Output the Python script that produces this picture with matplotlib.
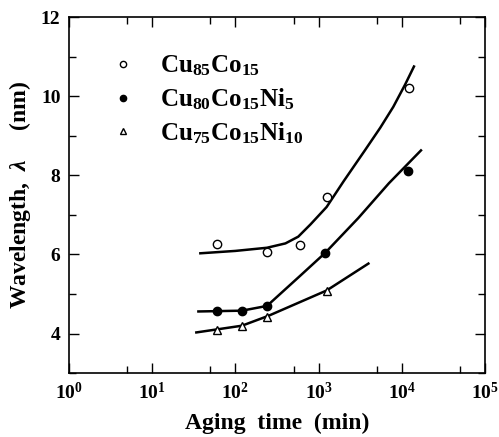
import numpy as np
import matplotlib
matplotlib.use("Agg")
import matplotlib.pyplot as plt
from matplotlib.ticker import LogLocator, MultipleLocator, FixedLocator

plt.rcParams["font.family"] = "Liberation Serif"
plt.rcParams["font.weight"] = "bold"
plt.rcParams["mathtext.fontset"] = "custom"
plt.rcParams["mathtext.rm"] = "Liberation Serif:bold"
plt.rcParams["mathtext.bf"] = "Liberation Serif:bold"
plt.rcParams["mathtext.it"] = "Liberation Serif:italic:bold"

# ============================
# Datos
# ============================
labels = [r"Cu$_{85}$Co$_{15}$", r"Cu$_{80}$Co$_{15}$Ni$_{5}$", r"Cu$_{75}$Co$_{15}$Ni$_{10}$"]

t_cu85 = [60, 240, 600, 1250, 12300]
w_cu85 = [6.27, 6.07, 6.25, 7.44, 10.21]
t_cu80 = [60, 120, 240, 1200, 12000]
w_cu80 = [4.58, 4.58, 4.69, 6.04, 8.12]
t_cu75 = [60, 120, 240, 1250]
w_cu75 = [4.09, 4.20, 4.41, 5.07]

# curvas de ajuste
fit_t_cu85 = [38, 100, 240, 400, 570, 800, 1250, 2000, 3600, 5500, 7900, 11000, 14000]
fit_w_cu85 = [6.03, 6.09, 6.17, 6.28, 6.45, 6.76, 7.20, 7.85, 8.63, 9.20, 9.73, 10.30, 10.75]
fit_t_cu80 = [36, 120, 240, 600, 1200, 3000, 7000, 17000]
fit_w_cu80 = [4.56, 4.58, 4.70, 5.46, 6.04, 6.92, 7.80, 8.63]
fit_t_cu75 = [34, 120, 250, 1250, 3970]
fit_w_cu75 = [4.03, 4.20, 4.45, 5.09, 5.77]

# ============================
# Gráfico
# ============================
fig = plt.figure(figsize=(4.99, 4.37), dpi=100)
ax = fig.add_axes([0.138, 0.146, 0.834, 0.815])

for ft, fw in [(fit_t_cu85, fit_w_cu85), (fit_t_cu80, fit_w_cu80), (fit_t_cu75, fit_w_cu75)]:
    ax.plot(ft, fw, color="black", lw=1.8, zorder=2)

h1, = ax.plot(t_cu85, w_cu85, "o", ms=6, mfc="white", mec="black", mew=1.0, ls="none", zorder=3)
h2, = ax.plot(t_cu80, w_cu80, "o", ms=6, mfc="black", mec="black", mew=1.0, ls="none", zorder=3)
h3, = ax.plot(t_cu75, w_cu75, "^", ms=6, mfc="white", mec="black", mew=1.0, ls="none", zorder=3)

ax.set_xscale("log")
ax.set_xlim(1, 1e5)
ax.set_ylim(3, 12)
ax.xaxis.set_major_locator(LogLocator(base=10, numticks=10))
ax.xaxis.set_minor_locator(FixedLocator([5, 50, 500, 5000, 50000]))
ax.yaxis.set_major_locator(MultipleLocator(2))
ax.yaxis.set_minor_locator(MultipleLocator(1))
ax.tick_params(which="both", direction="in", top=True, right=True, labelsize=14, pad=6)
ax.tick_params(which="major", length=7, width=1)
ax.tick_params(which="minor", length=5, width=1)
for s in ax.spines.values():
    s.set_linewidth(1.2)

ax.set_xlabel("Aging  time  (min)", fontsize=17, fontweight="bold", labelpad=7)
ax.set_ylabel(r"Wavelength,  $\lambda$     (nm)", fontsize=17, fontweight="bold", labelpad=6)

ax.legend([h1, h2, h3], labels, loc="upper left", bbox_to_anchor=(0.10, 0.897),
          frameon=False, fontsize=18, markerscale=0.75, handlelength=1.0,
          handletextpad=1.0, labelspacing=0.32, borderaxespad=0, borderpad=0)

fig.savefig("out.png", dpi=100)
